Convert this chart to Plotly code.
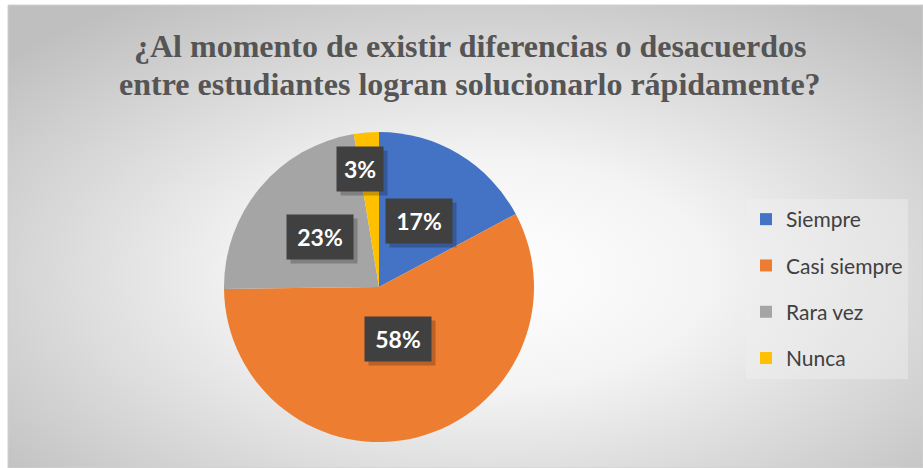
import math
import base64
import plotly.graph_objects as go

# datos de la encuesta
categorias = ['Siempre', 'Casi siempre', 'Rara vez', 'Nunca']
porcentajes = [17.2, 57.6, 22.6, 2.6]
colores = ['#4472C4', '#ED7D31', '#A5A5A5', '#FFC000']

titulo_l1 = '¿Al momento de existir diferencias o desacuerdos'
titulo_l2 = 'entre estudiantes logran solucionarlo rápidamente?'

W, H = 923, 468

# pie geometry (px)
cx, cy, R = 379, 287, 155
# label placement: fraction of radius and angle tweak per slice (excel "best fit")
lab_r = [0.5, 0.5, 0.5, 0.77]
lab_shift = [0, 0, 0, -4.5]

# fondo degradado radial
svg = f'''<svg xmlns="http://www.w3.org/2000/svg" width="{W}" height="{H}">
<defs><radialGradient id="g" cx="52%" cy="58%" r="70%">
<stop offset="0" stop-color="#ffffff"/><stop offset="0.35" stop-color="#f4f4f4"/>
<stop offset="1" stop-color="#bfbfbf"/></radialGradient></defs>
<rect width="100%" height="100%" fill="url(#g)"/></svg>'''
bg_src = 'data:image/svg+xml;base64,' + base64.b64encode(svg.encode()).decode()

fig = go.Figure()
fig.add_trace(go.Pie(
    labels=categorias, values=porcentajes, sort=False, direction='clockwise', rotation=0,
    marker=dict(colors=colores, line=dict(width=0)), textinfo='none', showlegend=False,
    hoverinfo='label+percent',
    domain=dict(x=[(cx - R) / W, (cx + R) / W], y=[(H - cy - R) / H, (H - cy + R) / H]),
))

# legend entries
for cat, col in zip(categorias, colores):
    fig.add_trace(go.Scatter(x=[None], y=[None], mode='markers', name=cat, legendgroup=cat,
                             marker=dict(symbol='square', size=14, color=col)))

# etiquetas de datos
total = sum(porcentajes)
acum = 0
for i, v in enumerate(porcentajes):
    mid = (acum + v / 2) / total * 360 + lab_shift[i]
    acum += v
    a = math.radians(mid)
    px_ = cx + lab_r[i] * R * math.sin(a)
    py_ = cy - lab_r[i] * R * math.cos(a)
    txt = f'{round(v)}%'
    bw = 44 if len(txt) == 2 else 64
    # sombra
    fig.add_annotation(x=px_ / W, y=1 - py_ / H, xref='paper', yref='paper', text=' ',
                       showarrow=False, width=bw, height=42, bgcolor='rgba(0,0,0,0.22)',
                       xshift=4, yshift=-4)
    fig.add_annotation(x=px_ / W, y=1 - py_ / H, xref='paper', yref='paper', text=f'<b>{txt}</b>',
                       showarrow=False, width=bw, height=42, bgcolor='#404040',
                       font=dict(family='Lato', size=23, color='white'))

# titulo en dos lineas
for ty, t in [(46, titulo_l1), (84, titulo_l2)]:
    fig.add_annotation(x=470 / W, y=1 - ty / H, xref='paper', yref='paper', text=f'<b>{t}</b>',
                       showarrow=False, xanchor='center', yanchor='middle',
                       font=dict(family='Liberation Serif', size=32, color='#555555'))

fig.add_layout_image(dict(source=bg_src, xref='paper', yref='paper', x=8 / W, y=1 - 5 / H,
                          sizex=(W - 8) / W, sizey=(H - 5) / H, sizing='stretch',
                          xanchor='left', yanchor='top', layer='below'))
fig.add_shape(type='rect', xref='paper', yref='paper', x0=8 / W, y0=0, x1=1, y1=1 - 5 / H,
              line=dict(color='#d0d0d0', width=1))

fig.update_layout(
    width=W, height=H, margin=dict(l=0, r=0, t=0, b=0),
    paper_bgcolor='white', plot_bgcolor='rgba(0,0,0,0)',
    xaxis=dict(visible=False, domain=[0.9, 0.95]), yaxis=dict(visible=False, domain=[0.9, 0.95]),
    legend=dict(x=746 / W, y=1 - 199 / H, xanchor='left', yanchor='top',
                bgcolor='rgba(240,240,240,0.45)', tracegroupgap=16,
                font=dict(family='Lato', size=21, color='#404040'), itemsizing='constant'),
)

fig.write_html('out.html', config={'displayModeBar': False},
               post_script="document.body.style.margin='0';")
